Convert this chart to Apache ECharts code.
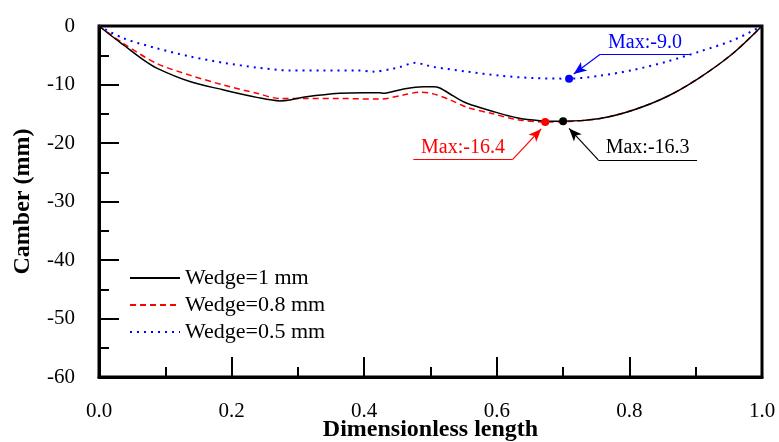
<!DOCTYPE html>
<html>
<head>
<meta charset="utf-8">
<script src="https://cdn.jsdelivr.net/npm/echarts@6/dist/echarts.min.js"></script>
<style>html,body{margin:0;padding:0;background:#fff}#c{width:779px;height:442px}</style>
</head>
<body>
<div id="c"></div>
<script>
var xTickLabels = ['0.0','0.2','0.4','0.6','0.8','1.0'];
var seriesNames = ['Wedge=1 mm','Wedge=0.8 mm','Wedge=0.5 mm'];
var colors = ['#000000','#ff0000','#0000ff'];

var w1x = [0,0.02,0.037,0.067,0.087,0.137,0.187,0.238,0.273,0.29,0.313,0.363,0.40,0.424,0.428,0.458,0.489,0.504,0.514,0.535,0.555,0.594,0.630,0.665,0.700,0.756,0.805,0.856,0.905,0.956,1.0];
var w1y = [0,-1.8,-3.25,-5.8,-7.2,-9.5,-10.9,-12.2,-12.8,-12.6,-12.1,-11.5,-11.4,-11.4,-11.5,-10.8,-10.4,-10.4,-10.6,-12.0,-13.2,-14.6,-15.7,-16.2,-16.3,-15.8,-14.4,-12.1,-8.9,-4.7,0];

var w08x = [0,0.037,0.087,0.137,0.188,0.238,0.273,0.313,0.363,0.424,0.459,0.484,0.504,0.529,0.555,0.594,0.630,0.673,0.705,0.756,0.805,0.856,0.905,0.956,1.0];
var w08y = [0,-3.0,-6.4,-8.4,-10.1,-11.5,-12.4,-12.4,-12.4,-12.5,-11.8,-11.3,-11.6,-12.6,-13.9,-15.0,-16.0,-16.4,-16.35,-15.8,-14.4,-12.1,-8.9,-4.7,0];

var w05x = [0,0.037,0.087,0.137,0.188,0.238,0.288,0.338,0.389,0.414,0.439,0.454,0.477,0.494,0.504,0.555,0.605,0.655,0.709,0.756,0.806,0.856,0.905,0.957,1.0];
var w05y = [0,-2.1,-3.8,-5.2,-6.3,-7.1,-7.6,-7.6,-7.6,-7.8,-7.4,-7.0,-6.3,-6.7,-7.0,-7.8,-8.5,-8.9,-9.0,-8.5,-7.5,-6.1,-4.4,-2.4,0];

var maxLabels = ['Max:-16.3','Max:-16.4','Max:-9.0'];
// annotation leader lines: [underline start, underline end, arrow tip] in data units
var annotLines = [
  [[0.753,-22.9],[0.902,-22.9],[0.709,-17.5]],
  [[0.474,-22.8],[0.624,-22.8],[0.667,-17.6]],
  [[0.756,-4.84],[0.891,-4.84],[0.716,-8.2]]
];
var annotPivot = [0,1,0]; // which underline end the diagonal starts from

function zip(xs, ys){ return xs.map(function(x,i){return [x, ys[i]];}); }
function minPoint(xs, ys){ var k=0; for(var i=1;i<ys.length;i++){ if(ys[i]<ys[k]) k=i; } return [xs[k], ys[k]]; }

var datasets = [zip(w1x,w1y), zip(w08x,w08y), zip(w05x,w05y)];
var mins = [minPoint(w1x,w1y), minPoint(w08x,w08y), minPoint(w05x,w05y)];
var lineTypes = ['solid',[6,4],[2,5]];
var widths = [1.5,1.5,2];

var serif = 'Liberation Serif';
var series = datasets.map(function(d,i){
  var a = annotLines[i];
  var piv = a[annotPivot[i]];
  return {
    name: seriesNames[i], type: 'line', data: d, symbol: 'none', smooth: 0.3,
    lineStyle: {color: colors[i], width: widths[i], type: lineTypes[i]},
    itemStyle: {color: colors[i]},
    z: 3 - i,
    markPoint: {
      silent: true, animation: false,
      symbol: 'circle', symbolSize: 8,
      itemStyle: {color: colors[i]},
      label: {show: false},
      data: [{coord: mins[i]}]
    },
    markLine: {
      silent: true, animation: false,
      lineStyle: {color: colors[i], width: 1.2, type: 'solid'},
      emphasis: {disabled: true},
      data: [
        [{coord: a[0], symbol: 'none'}, {coord: a[1], symbol: 'none',
          label: {show: true, position: 'insideMiddleTop', distance: 2, formatter: maxLabels[i],
                  color: colors[i], fontFamily: serif, fontSize: 20}}],
        [{coord: piv, symbol: 'none'}, {coord: a[2], symbol: 'arrow', symbolSize: [8,13], label:{show:false}}]
      ],
      label: {show: false}
    }
  };
});

var chart = echarts.init(document.getElementById('c'));
chart.setOption({
  animation: false,
  backgroundColor: '#fff',
  textStyle: {fontFamily: serif},
  grid: {left: 99, right: 17, top: 26, bottom: 65, show: true, borderColor: '#000', borderWidth: 3,
         outerBoundsMode: 'none', containLabel: false},
  legend: {
    left: 124, top: 262, orient: 'vertical', itemWidth: 50, itemHeight: 14, itemGap: 5,
    itemStyle: {opacity: 0},
    textStyle: {fontFamily: serif, fontSize: 22, color: '#000', lineHeight: 22},
    data: seriesNames.map(function(n){return {name:n};})
  },
  xAxis: {
    type: 'value', min: 0, max: 1, interval: 0.2,
    name: 'Dimensionless length', nameLocation: 'middle', nameGap: 41, nameMoveOverlap: false,
    nameTextStyle: {fontFamily: serif, fontSize: 24, fontWeight: 'bold', color: '#000'},
    axisLine: {onZero: false, lineStyle: {color: '#000', width: 3}},
    axisTick: {inside: true, length: 20, lineStyle: {color: '#000', width: 2}},
    minorTick: {show: true, splitNumber: 2, length: 10, lineStyle: {color: '#000', width: 2}},
    splitLine: {show: false},
    axisLabel: {margin: 24, fontFamily: serif, fontSize: 21, color: '#000',
      formatter: function(v){ return xTickLabels[Math.round(v/0.2)]; }}
  },
  yAxis: {
    type: 'value', min: -60, max: 0, interval: 10,
    name: 'Camber (mm)', nameLocation: 'middle', nameGap: 64, nameMoveOverlap: false,
    nameTextStyle: {fontFamily: serif, fontSize: 24, fontWeight: 'bold', color: '#000'},
    axisLine: {onZero: false, lineStyle: {color: '#000', width: 3}},
    axisTick: {inside: true, length: 20, lineStyle: {color: '#000', width: 2}},
    minorTick: {show: true, splitNumber: 2, length: 10, lineStyle: {color: '#000', width: 2}},
    splitLine: {show: false},
    axisLabel: {margin: 24, fontFamily: serif, fontSize: 21, color: '#000'}
  },
  series: series
});
</script>
</body>
</html>
